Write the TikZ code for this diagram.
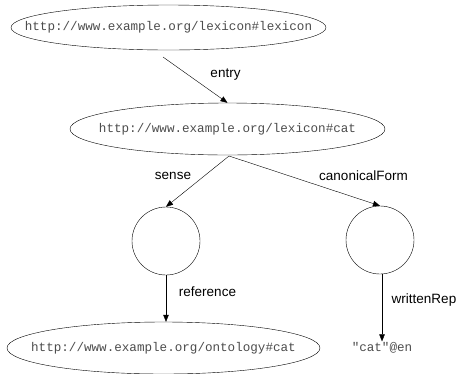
\documentclass[tikz,border=0pt]{standalone}
\usepackage{fontspec}
\setmainfont{Liberation Sans}
\newfontfamily\monof{Liberation Mono}
\usetikzlibrary{shapes.geometric,arrows.meta}
\newcommand{\zw}[1]{\makebox[0pt]{#1}}
\begin{document}
\begin{tikzpicture}[x=1pt,y=-1pt,
  uri/.style={ellipse,draw,thin,inner sep=0pt,font=\monof\fontsize{12.6}{14}\selectfont,text=black!70},
  blank/.style={circle,draw,thin,minimum size=68pt,inner sep=0pt},
  lit/.style={font=\monof\fontsize{12.6}{14}\selectfont,text=black!70,inner sep=1pt},
  lbl/.style={font=\fontsize{13.5}{15}\selectfont,inner sep=0pt},
  edge/.style={draw,thin,-{Triangle[length=7pt,width=5.5pt]}}]
\useasboundingbox (0,0) rectangle (463,373);
\node[uri,minimum width=315pt,minimum height=45pt] (lex) at (168.5,27.5) {\zw{http://www.example.org/lexicon\#lexicon}};
\node[uri,minimum width=315pt,minimum height=52pt] (cat) at (227.5,129) {\zw{http://www.example.org/lexicon\#cat}};
\node[blank] (b1) at (166,241) {};
\node[blank] (b2) at (380,240) {};
\node[uri,minimum width=313pt,minimum height=52pt] (ont) at (163.5,348) {\zw{http://www.example.org/ontology\#cat}};
\node[lit] (en) at (382,348) {"cat"@en};
\coordinate (ls) at (163,57);
\coordinate (cb) at (229,156);
\draw[edge] (ls) -- (cat.north) node[lbl] at (225.5,75) {entry};
\draw[edge] (cb) -- (b1.north) node[lbl] at (173,176) {sense};
\draw[edge] (cb) -- (b2.north) node[lbl] at (363.5,176) {canonicalForm};
\draw[edge] (b1.south) -- (b1.south |- ont.north) node[lbl] at (207.5,292) {reference};
\draw[edge] (b2.south -| en.north) -- (en.north) node[lbl] at (424,300) {writtenRep};
\end{tikzpicture}
\end{document}
